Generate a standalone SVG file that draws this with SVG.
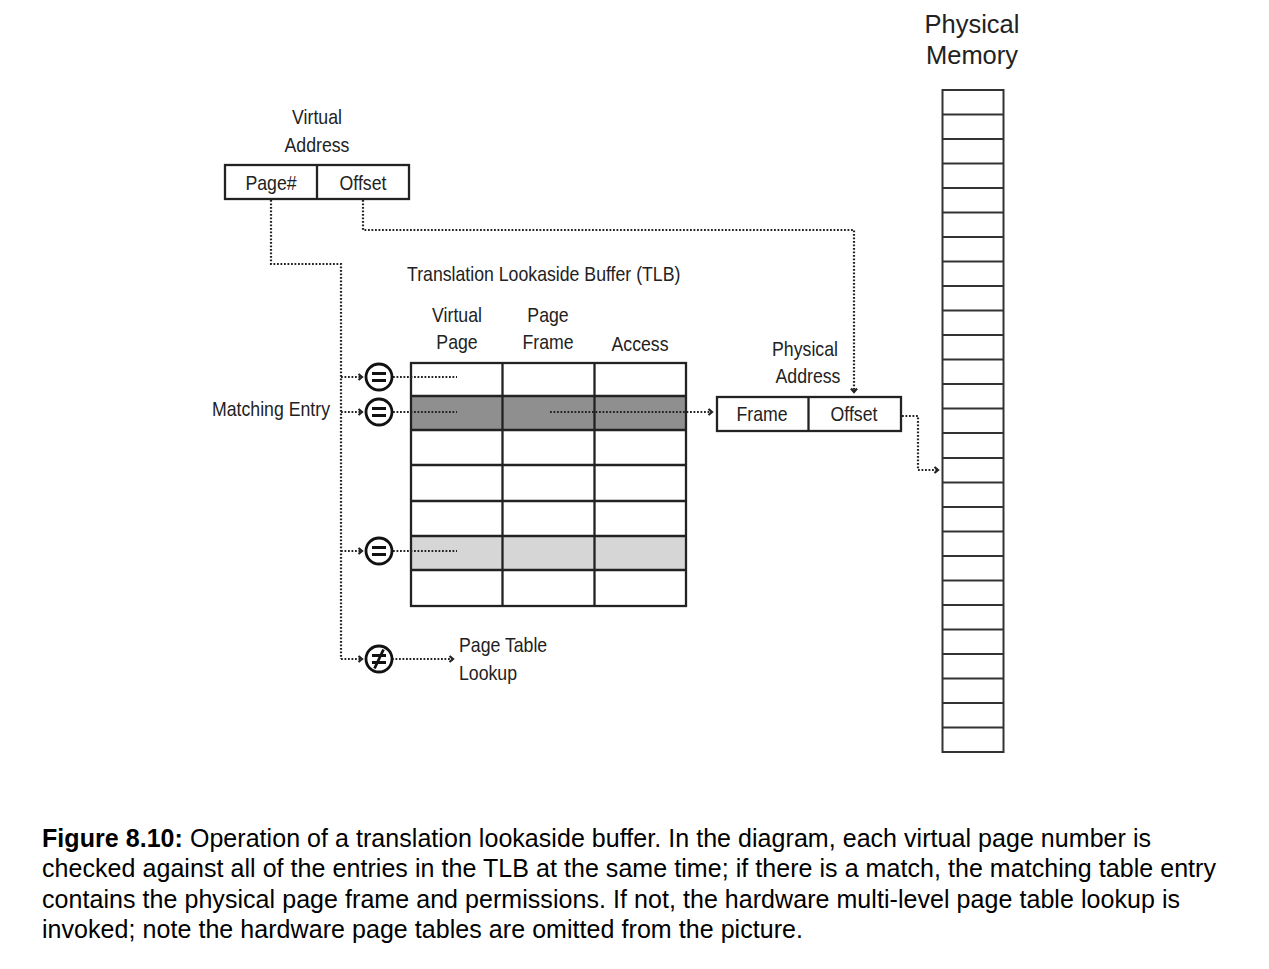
<svg xmlns="http://www.w3.org/2000/svg" width="1269" height="969" viewBox="0 0 1269 969">
<defs>
<marker id="arr" markerWidth="8" markerHeight="8" refX="5" refY="4" orient="auto" markerUnits="userSpaceOnUse">
<path d="M1.5,1 L5,4 L1.5,7" fill="none" stroke="#222" stroke-width="2.2"/>
</marker>
</defs>
<style>
.lbl{font-family:"Liberation Sans",Arial,sans-serif;font-size:20px;fill:#222}
.mid{text-anchor:middle}
.end{text-anchor:end}
.box{fill:#fff;stroke:#222;stroke-width:2.3}
.cell{fill:none;stroke:#222;stroke-width:2.3}
.dot{fill:none;stroke:#222;stroke-width:2.2;stroke-dasharray:1.8 1.7}
.circ{fill:#fff;stroke:#111;stroke-width:2.8}
.bar{stroke:#111;stroke-width:2.8;fill:none}
.mem{fill:#fff;stroke:#333;stroke-width:2}
.cap{font-family:"Liberation Sans",Arial,sans-serif;font-size:25px;fill:#000}
.hdr{font-family:"Liberation Sans",Arial,sans-serif;font-size:25.5px;fill:#222}
</style>
<rect width="1269" height="969" fill="#fff"/>

<g id="virtual-address">
<text class="lbl mid" transform="translate(317,124) scale(0.885,1)">Virtual</text>
<text class="lbl mid" transform="translate(317,152) scale(0.885,1)">Address</text>
<rect class="box" x="225" y="165" width="184" height="34"/>
<line class="cell" x1="317" y1="165" x2="317" y2="199"/>
<text class="lbl mid" transform="translate(271,190) scale(0.885,1)">Page#</text>
<text class="lbl mid" transform="translate(363,190) scale(0.885,1)">Offset</text>
</g>

<g id="tlb">
<text class="lbl" transform="translate(407,281) scale(0.885,1)">Translation Lookaside Buffer (TLB)</text>
<text class="lbl mid" transform="translate(457,322) scale(0.885,1)">Virtual</text>
<text class="lbl mid" transform="translate(457,349) scale(0.885,1)">Page</text>
<text class="lbl mid" transform="translate(548,322) scale(0.885,1)">Page</text>
<text class="lbl mid" transform="translate(548,349) scale(0.885,1)">Frame</text>
<text class="lbl mid" transform="translate(640,351) scale(0.885,1)">Access</text>
<rect x="411" y="396" width="275" height="34" fill="#8f8f8f"/>
<rect x="411" y="536" width="275" height="34" fill="#d6d6d6"/>
<rect class="cell" x="411" y="363" width="275" height="243"/>
<path class="cell" d="M502.5,363 V606 M594.5,363 V606 M411,396 H686 M411,430 H686 M411,465 H686 M411,501 H686 M411,536 H686 M411,570 H686"/>
</g>

<g id="connectors">
<path class="dot" d="M271,200 V264 H341 V659"/>
<path class="dot" d="M341,377 H362" marker-end="url(#arr)"/>
<path class="dot" d="M341,412 H362" marker-end="url(#arr)"/>
<path class="dot" d="M341,551 H362" marker-end="url(#arr)"/>
<path class="dot" d="M341,659 H362" marker-end="url(#arr)"/>
<path class="dot" d="M393,377 H457"/>
<path class="dot" d="M393,412 H457"/>
<path class="dot" d="M393,551 H457"/>
<path class="dot" d="M392,659 H453" marker-end="url(#arr)"/>
<path class="dot" d="M550,412 H712" marker-end="url(#arr)"/>
<path class="dot" d="M363,200 V230 H854 V392" marker-end="url(#arr)"/>
<path class="dot" d="M902,416 H918 V470 H938" marker-end="url(#arr)"/>
</g>

<g id="comparators">
<circle class="circ" cx="379" cy="377" r="13"/>
<path class="bar" d="M372,373.5 H386 M372,380.5 H386"/>
<circle class="circ" cx="379" cy="412" r="13"/>
<path class="bar" d="M372,408.5 H386 M372,415.5 H386"/>
<circle class="circ" cx="379" cy="551" r="13"/>
<path class="bar" d="M372,547.5 H386 M372,554.5 H386"/>
<circle class="circ" cx="379" cy="659" r="13"/>
<path class="bar" d="M372,655.5 H386 M372,662.5 H386 M383.5,649.5 L374.5,668.5"/>
</g>

<g id="labels">
<text class="lbl end" transform="translate(330,416) scale(0.885,1)">Matching Entry</text>
<text class="lbl" transform="translate(459,652) scale(0.885,1)">Page Table</text>
<text class="lbl" transform="translate(459,680) scale(0.885,1)">Lookup</text>
</g>

<g id="physical-address">
<text class="lbl mid" transform="translate(805,356) scale(0.885,1)">Physical</text>
<text class="lbl mid" transform="translate(808,383) scale(0.885,1)">Address</text>
<rect class="box" x="717" y="397" width="184" height="34"/>
<line class="cell" x1="808.5" y1="397" x2="808.5" y2="431"/>
<text class="lbl mid" transform="translate(762,421) scale(0.885,1)">Frame</text>
<text class="lbl mid" transform="translate(854,421) scale(0.885,1)">Offset</text>
</g>

<g id="physical-memory">
<text class="hdr mid" x="972" y="33">Physical</text>
<text class="hdr mid" x="972" y="64">Memory</text>
<rect x="942.5" y="139" width="61" height="24.5" fill="#d6d6d6"/>
<rect x="942.5" y="458" width="61" height="24.5" fill="#8f8f8f"/>
<rect class="mem" x="942.5" y="90" width="61" height="662" fill="none"/>
<path class="mem" d="M942.5,114.5 H1003.5 M942.5,139 H1003.5 M942.5,163.5 H1003.5 M942.5,188 H1003.5 M942.5,212.5 H1003.5 M942.5,237 H1003.5 M942.5,261.5 H1003.5 M942.5,286 H1003.5 M942.5,310.5 H1003.5 M942.5,335 H1003.5 M942.5,359.5 H1003.5 M942.5,384 H1003.5 M942.5,408.5 H1003.5 M942.5,433 H1003.5 M942.5,458 H1003.5 M942.5,482.5 H1003.5 M942.5,507 H1003.5 M942.5,531.5 H1003.5 M942.5,556 H1003.5 M942.5,580.5 H1003.5 M942.5,605 H1003.5 M942.5,629.5 H1003.5 M942.5,654 H1003.5 M942.5,678.5 H1003.5 M942.5,703 H1003.5 M942.5,727.5 H1003.5"/>
</g>

<g id="caption">
<text class="cap" x="42" y="847" textLength="1109" lengthAdjust="spacing"><tspan font-weight="bold">Figure 8.10:</tspan> Operation of a translation lookaside buffer. In the diagram, each virtual page number is</text>
<text class="cap" x="42" y="877" textLength="1174" lengthAdjust="spacing">checked against all of the entries in the TLB at the same time; if there is a match, the matching table entry</text>
<text class="cap" x="42" y="908" textLength="1138" lengthAdjust="spacing">contains the physical page frame and permissions. If not, the hardware multi-level page table lookup is</text>
<text class="cap" x="42" y="938" textLength="761" lengthAdjust="spacing">invoked; note the hardware page tables are omitted from the picture.</text>
</g>
</svg>
